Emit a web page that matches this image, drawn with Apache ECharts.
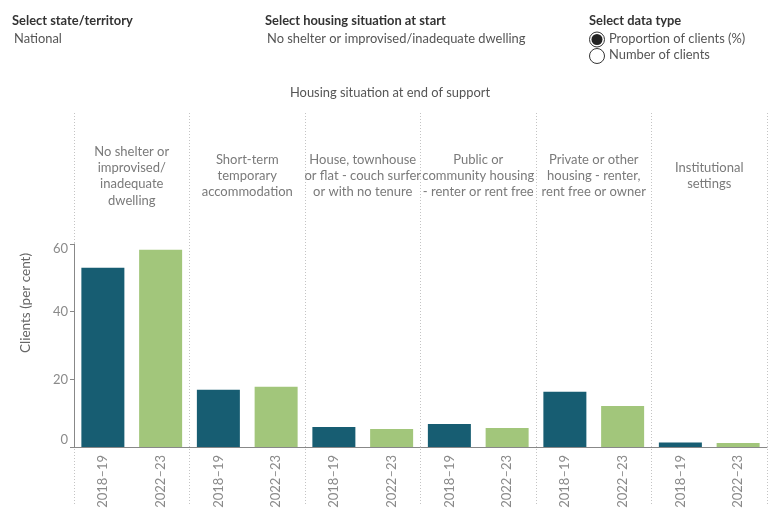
<!DOCTYPE html>
<html>
<head>
<meta charset="utf-8">
<script src="https://cdn.jsdelivr.net/npm/echarts@6/dist/echarts.min.js"></script>
<style>
  html, body { margin: 0; padding: 0; background: #fff; }
  #box { width: 780px; height: 520px; }
</style>
</head>
<body>
<div id="box"></div>
<script>
// housing situation at end of support (facet headers)
var endSituations = [
    'No shelter or\nimprovised/\ninadequate\ndwelling',
    'Short-term\ntemporary\naccommodation',
    'House, townhouse\nor flat - couch surfer\nor with no tenure',
    'Public or\ncommunity housing\n- renter or rent free',
    'Private or other\nhousing - renter,\nrent free or owner',
    'Institutional\nsettings'
];
var years = ['2018–19', '2022–23'];
// proportion of clients (%), per end situation
var values2018 = [53.0, 16.9, 5.9, 6.8, 16.3, 1.3];
var values2022 = [58.3, 17.8, 5.3, 5.6, 12.1, 1.2];
var yTicks = [0, 20, 40, 60];

var colors = ['#175d72', '#a2c67b'];
var font = 'Lato, "Open Sans", sans-serif';

// one category per (situation, year) pair
var cats = [], vals = [];
endSituations.forEach(function (s, i) {
    cats.push(years[0]); vals.push(values2018[i]);
    cats.push(years[1]); vals.push(values2022[i]);
});

var chart = echarts.init(document.getElementById('box'));

var option = {
    animation: false,
    grid: [
        {left: 74, right: 13, top: 244, bottom: 73},   // bars
        {left: 74, right: 13, top: 176, height: 10},   // headers
        {left: 74, right: 13, top: 113, bottom: 15},   // dividers
        {left: 74, right: 13, top: 113, bottom: 27}    // y title
    ],
    xAxis: [
        {
            gridIndex: 0, type: 'category', data: cats,
            axisLine: {lineStyle: {color: '#888'}},
            axisTick: {lineStyle: {color: '#888'}, length: 4},
            axisLabel: {
                interval: 0, rotate: 90, margin: 8,
                color: '#8a8a8a', fontSize: 13, fontFamily: font
            }
        },
        {
            gridIndex: 1, type: 'category', data: endSituations, position: 'top',
            axisLine: {show: false}, axisTick: {show: false},
            axisLabel: {
                interval: 0, margin: 0, verticalAlign: 'middle', align: 'center',
                lineHeight: 16.3, color: '#7a7a7a', fontSize: 13, fontFamily: font
            }
        },
        {
            gridIndex: 2, type: 'category', data: endSituations,
            axisLine: {show: false}, axisTick: {show: false}, axisLabel: {show: false},
            splitLine: {show: true, interval: 0, lineStyle: {color: '#c4c4c4', type: [1, 2], width: 1}}
        },
        {gridIndex: 3, type: 'category', show: false}
    ],
    yAxis: [
        {
            gridIndex: 0, type: 'value', min: 0, max: 60, interval: 20,
            axisLine: {show: true, lineStyle: {color: '#888'}},
            axisTick: {show: true, length: 4, lineStyle: {color: '#888'}},
            splitLine: {show: false},
            axisLabel: {
                color: '#8a8a8a', fontSize: 13, fontFamily: font, margin: 6,
                formatter: function (v) {
                    if (yTicks.indexOf(v) < 0) return '';
                    if (v === 0) return '{lo|0}';
                    if (v === 60) return '{hi|60}';
                    return String(v);
                },
                rich: {
                    lo: {color: '#8a8a8a', fontSize: 13, fontFamily: font, padding: [0, 0, 15, 0]},
                    hi: {color: '#8a8a8a', fontSize: 13, fontFamily: font, padding: [9, 0, 0, 0]}
                }
            }
        },
        {gridIndex: 1, type: 'value', show: false},
        {
            gridIndex: 2, type: 'value',
            axisLine: {show: false}, axisTick: {show: false},
            axisLabel: {show: false}, splitLine: {show: false}
        },
        {
            gridIndex: 3, type: 'value', name: 'Clients (per cent)',
            nameLocation: 'middle', nameGap: 41,
            nameTextStyle: {color: '#666', fontSize: 13.5, fontFamily: font},
            axisLine: {show: false}, axisTick: {show: false},
            axisLabel: {show: false}, splitLine: {show: false}
        }
    ],
    series: [{
        type: 'bar', xAxisIndex: 0, yAxisIndex: 0,
        data: vals, barWidth: 43,
        itemStyle: {
            color: function (p) { return colors[p.dataIndex % 2]; }
        }
    }],
    graphic: [
        {type: 'text', left: 12, top: 14, style: {text: 'Select state/territory', fill: '#333', font: 'bold 12.9px ' + font}},
        {type: 'text', left: 14, top: 32, style: {text: 'National', fill: '#555', font: '12.9px ' + font}},
        {type: 'text', left: 265, top: 14, style: {text: 'Select housing situation at start', fill: '#333', font: 'bold 12.9px ' + font}},
        {type: 'text', left: 267, top: 32, style: {text: 'No shelter or improvised/inadequate dwelling', fill: '#555', font: '12.9px ' + font}},
        {type: 'text', left: 589, top: 14, style: {text: 'Select data type', fill: '#333', font: 'bold 12.9px ' + font}},
        {type: 'circle', shape: {cx: 597, cy: 39.5, r: 7.5}, style: {fill: '#fff', stroke: '#333', lineWidth: 1}},
        {type: 'circle', shape: {cx: 597, cy: 39.5, r: 5.5}, style: {fill: '#222'}},
        {type: 'circle', shape: {cx: 597, cy: 56, r: 7.5}, style: {fill: '#fff', stroke: '#333', lineWidth: 1}},
        {type: 'text', left: 609, top: 32, style: {text: 'Proportion of clients (%)', fill: '#555', font: '12.9px ' + font}},
        {type: 'text', left: 609, top: 48.5, style: {text: 'Number of clients', fill: '#555', font: '12.9px ' + font}},
        {type: 'text', left: 'center', top: 86, style: {text: 'Housing situation at end of support', fill: '#555', font: '12.9px ' + font}}
    ]
};
chart.setOption(option);
</script>
</body>
</html>
